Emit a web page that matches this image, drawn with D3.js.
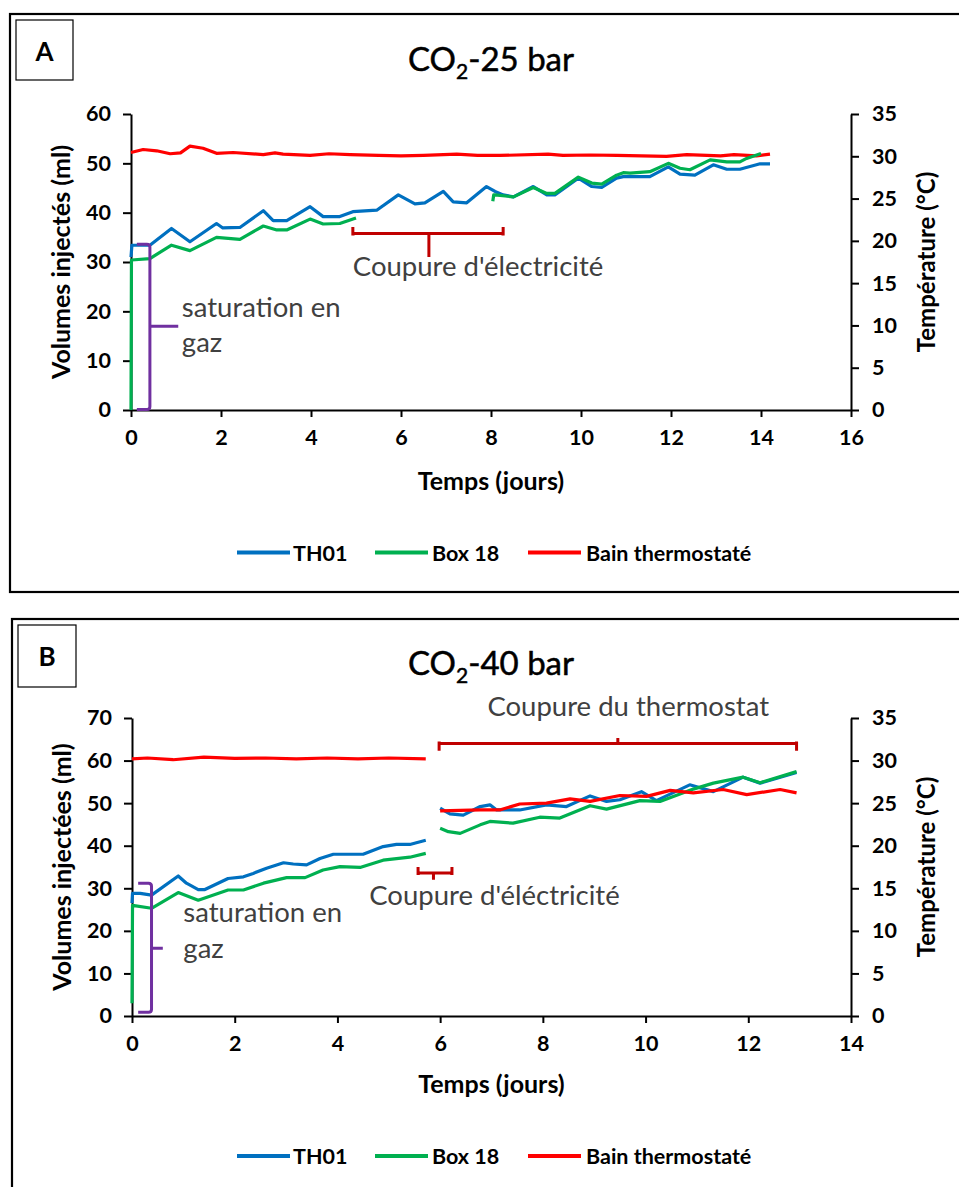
<!DOCTYPE html>
<html>
<head>
<meta charset="utf-8">
<script src="https://cdn.jsdelivr.net/npm/d3@7"></script>
<style>
  html, body { margin: 0; padding: 0; background: #fff; }
  svg { display: block; }
  text { font-family: Lato, "Open Sans", sans-serif; }
</style>
</head>
<body>
<svg id="chart" width="959" height="1187"></svg>
<script>
// ---------------- DATA ----------------
// Panel A : CO2-25 bar
const xTicksA = [0, 2, 4, 6, 8, 10, 12, 14, 16];
const yTicksA = [0, 10, 20, 30, 40, 50, 60];
const tTicksA = [0, 5, 10, 15, 20, 25, 30, 35];

const daysA_TH01 = [0, 0.02, 0.42, 0.9, 1.31, 1.9, 2.04, 2.42, 2.94, 3.16, 3.46, 3.98, 4.27, 4.64, 4.93, 5.46, 5.94, 6.31, 6.53, 6.94, 7.16, 7.46, 7.9, 8.09, 8.27, 8.5, 8.94, 9.24, 9.42, 9.94, 10.24, 10.46, 10.79, 10.94, 11.09, 11.53, 11.94, 12.2, 12.53, 12.94, 13.24, 13.53, 13.98, 14.2];
const volA_TH01  = [31.0, 33.4, 33.4, 36.8, 34.1, 37.8, 36.9, 37.0, 40.4, 38.4, 38.4, 41.2, 39.2, 39.2, 40.2, 40.5, 43.6, 41.8, 42.0, 44.3, 42.2, 42.0, 45.3, 44.3, 43.6, 43.2, 45.3, 43.6, 43.6, 47.0, 45.3, 45.1, 47.0, 47.3, 47.3, 47.3, 49.3, 47.8, 47.6, 49.7, 48.8, 48.8, 49.9, 49.9];

const daysA_Box18 = [0, 0.01, 0.42, 0.9, 1.31, 1.9, 2.42, 2.94, 3.24, 3.46, 3.98, 4.27, 4.64, 5.0, 6.5, 8.04, 8.06, 8.09, 8.5, 8.94, 9.24, 9.42, 9.94, 10.24, 10.46, 10.79, 10.94, 11.09, 11.53, 11.94, 12.2, 12.42, 12.87, 13.24, 13.53, 13.68, 14.0];
const volA_Box18  = [0, 30.4, 30.7, 33.4, 32.3, 35.0, 34.6, 37.3, 36.5, 36.5, 38.7, 37.7, 37.8, 38.9, null, 42.3, 43.6, 43.6, 43.2, 45.1, 43.9, 43.9, 47.2, 46.0, 45.8, 47.6, 48.1, 48.0, 48.3, 50.0, 49.0, 48.7, 50.7, 50.3, 50.3, 51.0, 52.0];

const daysA_Bain = [0, 0.27, 0.57, 0.87, 1.1, 1.31, 1.6, 1.9, 2.27, 2.94, 3.2, 3.38, 3.98, 4.4, 4.87, 5.5, 6.0, 6.5, 7.24, 7.7, 8.2, 9.27, 9.6, 10.2, 10.8, 11.9, 12.35, 13.1, 13.4, 13.9, 14.2];
const tempA_Bain = [30.45, 30.8, 30.65, 30.3, 30.4, 31.2, 30.95, 30.35, 30.45, 30.2, 30.4, 30.25, 30.1, 30.3, 30.2, 30.1, 30.05, 30.1, 30.25, 30.1, 30.1, 30.25, 30.1, 30.15, 30.1, 30.0, 30.2, 30.05, 30.2, 30.05, 30.25];

// Panel B : CO2-40 bar
const xTicksB = [0, 2, 4, 6, 8, 10, 12, 14];
const yTicksB = [0, 10, 20, 30, 40, 50, 60, 70];
const tTicksB = [0, 5, 10, 15, 20, 25, 30, 35];

const daysB_TH01 = [0, 0.01, 0.16, 0.38, 0.9, 1.06, 1.29, 1.42, 1.87, 2.17, 2.36, 2.62, 2.95, 3.14, 3.4, 3.66, 3.92, 4.5, 4.89, 5.15, 5.41, 5.72, 5.85, 6.0, 6.19, 6.45, 6.78, 6.97, 7.1, 7.55, 8.07, 8.46, 8.92, 9.24, 9.5, 9.92, 10.21, 10.86, 11.32, 11.9, 12.23, 12.94];
const volB_TH01  = [26.5, 28.8, 28.8, 28.4, 32.9, 31.2, 29.7, 29.7, 32.3, 32.7, 33.5, 34.7, 36.0, 35.7, 35.5, 37.0, 38.0, 38.0, 39.8, 40.3, 40.3, 41.3, null, 48.8, 47.5, 47.2, 49.2, 49.6, 48.4, 48.4, 49.6, 49.2, 51.7, 50.4, 50.8, 52.7, 50.6, 54.3, 52.7, 56.1, 54.7, 57.2];

const daysB_Box18 = [0, 0.01, 0.38, 0.9, 1.29, 1.87, 2.17, 2.56, 3.01, 3.37, 3.72, 4.05, 4.44, 4.89, 5.41, 5.72, 5.85, 6.0, 6.16, 6.39, 6.78, 6.97, 7.42, 7.94, 8.33, 8.92, 9.24, 9.89, 10.28, 10.93, 11.32, 11.9, 12.23, 12.94];
const volB_Box18  = [3.0, 26.0, 25.3, 29.0, 27.2, 29.6, 29.6, 31.2, 32.5, 32.5, 34.3, 35.1, 34.9, 36.6, 37.3, 38.2, null, 44.1, 43.3, 42.9, 44.9, 45.7, 45.3, 46.7, 46.5, 49.4, 48.6, 50.6, 50.4, 53.3, 54.7, 56.1, 54.8, 57.4];

const daysB_Bain = [0, 0.3, 0.8, 1.4, 2.0, 2.6, 3.2, 3.8, 4.4, 5.0, 5.72, 5.85, 6.0, 6.78, 7.16, 7.55, 8.07, 8.53, 8.92, 9.5, 10.02, 10.48, 10.93, 11.51, 11.97, 12.62, 12.94];
const tempB_Bain = [30.2, 30.3, 30.1, 30.4, 30.25, 30.3, 30.2, 30.3, 30.2, 30.3, 30.2, null, 24.1, 24.2, 24.2, 24.9, 25.0, 25.5, 25.2, 25.9, 25.8, 26.5, 26.2, 26.6, 26.0, 26.6, 26.2];

const seriesNames = ["TH01", "Box 18", "Bain thermostaté"];
const seriesColors = ["#0070C0", "#00B050", "#FF0000"];

// ---------------- DRAWING ----------------
const svg = d3.select("#chart");
svg.append("rect").attr("width", 959).attr("height", 1187).attr("fill", "#fff");

function zip(d, v) { return d.map((x, i) => ({ x: x, v: v[i] })); }

function panel(cfg) {
  const g = svg.append("g");
  const x = d3.scaleLinear().domain([0, cfg.xMax]).range(cfg.xRange);
  const y = d3.scaleLinear().domain([0, cfg.yMax]).range(cfg.yRange);
  const t = d3.scaleLinear().domain([0, 35]).range(cfg.yRange);

  // outer frame
  g.append("rect").attr("x", cfg.frame[0]).attr("y", cfg.frame[1])
    .attr("width", cfg.frame[2]).attr("height", cfg.frame[3])
    .attr("fill", "none").attr("stroke", "#000").attr("stroke-width", 2.2);
  // letter box
  g.append("rect").attr("x", cfg.box[0]).attr("y", cfg.box[1])
    .attr("width", cfg.box[2]).attr("height", cfg.box[3])
    .attr("fill", "#fff").attr("stroke", "#000").attr("stroke-width", 1.2);
  g.append("text").attr("x", cfg.box[0] + cfg.box[2] / 2).attr("y", cfg.box[1] + 41)
    .attr("text-anchor", "middle").attr("font-size", 26).attr("font-weight", "bold")
    .text(cfg.letter);

  // title
  const title = g.append("text").attr("x", 491).attr("y", cfg.titleY)
    .attr("text-anchor", "middle").attr("font-size", 33).attr("fill", "#000")
    .attr("stroke", "#000").attr("stroke-width", 0.5);
  title.append("tspan").text("CO");
  title.append("tspan").attr("font-size", 21).attr("dy", 8).text("2");
  title.append("tspan").attr("dy", -8).text(cfg.titleRest);

  // axes
  const styleAxis = sel => {
    sel.selectAll("path").attr("stroke", "#000").attr("stroke-width", 2);
    sel.selectAll("line").attr("stroke", "#000").attr("stroke-width", 2);
    sel.selectAll("text").attr("font-family", "Lato, sans-serif")
      .attr("font-size", 21.5).attr("font-weight", "bold").attr("fill", "#000");
  };
  g.append("g").attr("transform", `translate(0,${cfg.yRange[0]})`)
    .call(d3.axisBottom(x).tickValues(cfg.xTicks).tickSize(7).tickSizeOuter(0).tickPadding(13).tickFormat(d3.format("d")))
    .call(styleAxis);
  g.append("g").attr("transform", `translate(${cfg.xRange[0]},0)`)
    .call(d3.axisLeft(y).tickValues(cfg.yTicks).tickSize(8).tickSizeOuter(0).tickPadding(12).tickFormat(d3.format("d")))
    .call(styleAxis);
  g.append("g").attr("transform", `translate(${cfg.xRange[1]},0)`)
    .call(d3.axisRight(t).tickValues(cfg.tTicks).tickSize(8).tickSizeOuter(0).tickPadding(13).tickFormat(d3.format("d")))
    .call(styleAxis);
  g.selectAll(".domain").attr("fill", "none");

  // axis titles
  const ym = (cfg.yRange[0] + cfg.yRange[1]) / 2;
  g.append("text").attr("transform", `translate(${cfg.yLabelX},${ym}) rotate(-90)`)
    .attr("text-anchor", "middle").attr("font-size", 25).attr("font-weight", "bold")
    .text(cfg.yLabel);
  g.append("text").attr("transform", `translate(${cfg.tLabelX},${ym}) rotate(-90)`)
    .attr("text-anchor", "middle").attr("font-size", 24).attr("font-weight", "bold")
    .text("Température (°C)");
  g.append("text").attr("x", (cfg.xRange[0] + cfg.xRange[1]) / 2).attr("y", cfg.xLabelY)
    .attr("text-anchor", "middle").attr("font-size", 25).attr("font-weight", "bold")
    .text("Temps (jours)");

  // series
  const lineV = d3.line().defined(d => d.v != null).x(d => x(d.x)).y(d => y(d.v));
  const lineT = d3.line().defined(d => d.v != null).x(d => x(d.x)).y(d => t(d.v));
  const drawn = [
    { data: zip(cfg.th01[0], cfg.th01[1]), gen: lineV, c: seriesColors[0] },
    { data: zip(cfg.box18[0], cfg.box18[1]), gen: lineV, c: seriesColors[1] },
    { data: zip(cfg.bain[0], cfg.bain[1]), gen: lineT, c: seriesColors[2] }
  ];
  cfg.order.forEach(i => {
    const s = drawn[i];
    g.append("path").attr("d", s.gen(s.data)).attr("fill", "none")
      .attr("stroke", s.c).attr("stroke-width", 3.2)
      .attr("stroke-linejoin", "round").attr("stroke-linecap", "butt");
  });

  // annotations (brackets)
  cfg.annotate(g, x, y);

  // legend
  const ly = cfg.legendY;
  const legendItems = [
    { x1: 237, x2: 290, tx: 293 },
    { x1: 375, x2: 428, tx: 432 },
    { x1: 528, x2: 581, tx: 586 }
  ];
  legendItems.forEach((it, i) => {
    g.append("line").attr("x1", it.x1).attr("x2", it.x2).attr("y1", ly).attr("y2", ly)
      .attr("stroke", seriesColors[i]).attr("stroke-width", 4);
    g.append("text").attr("x", it.tx).attr("y", ly + 8).attr("font-size", 21.5)
      .attr("font-weight", "bold").text(seriesNames[i]);
  });
}

const annColor = "#404040";
const darkRed = "#C00000";
const purple = "#7030A0";

function curlyVertical(g, x, y, xv, xl, xm, yTop, yBot, yMid) {
  const X = x(xv), XL = x(xl), XM = x(xm), YT = y(yTop), YB = y(yBot), YM = y(yMid);
  g.append("path")
    .attr("d", `M${XL},${YT} H${X - 3} Q${X},${YT} ${X},${YT + 3} V${YB - 3} Q${X},${YB} ${X - 3},${YB} H${XL} M${X},${YM} H${XM}`)
    .attr("fill", "none").attr("stroke", purple).attr("stroke-width", 3);
}
function bracketH(g, x, y, x1, x2, yh, yHook, xt, yTip) {
  const X1 = x(x1), X2 = x(x2), YH = y(yh), YK = y(yHook), XT = x(xt), YT = y(yTip);
  const s = YK < YH ? -1 : 1;
  g.append("path")
    .attr("d", `M${X1},${YK} V${YH - s * 2} Q${X1},${YH} ${X1 + 2},${YH} H${X2 - 2} Q${X2},${YH} ${X2},${YH - s * 2} V${YK} M${XT},${YH} V${YT}`)
    .attr("fill", "none").attr("stroke", darkRed).attr("stroke-width", 3);
}
function annText(g, x, y, lines, xd, yd, lh, size) {
  lines.forEach((s, i) => {
    g.append("text").attr("x", x(xd)).attr("y", y(yd) + i * lh)
      .attr("font-size", size).attr("fill", annColor).text(s);
  });
}

panel({
  letter: "A", titleRest: "-25 bar", titleY: 71,
  frame: [10, 14, 960, 578], box: [16, 20, 57, 60],
  xMax: 16, yMax: 60, xRange: [131, 851], yRange: [410, 114],
  xTicks: xTicksA, yTicks: yTicksA, tTicks: tTicksA,
  yLabel: "Volumes injectés (ml)", yLabelX: 70, tLabelX: 935, xLabelY: 490,
  th01: [daysA_TH01, volA_TH01], box18: [daysA_Box18, volA_Box18],
  bain: [daysA_Bain, tempA_Bain], order: [2, 0, 1], legendY: 552.5,
  annotate: (g, x, y) => {
    curlyVertical(g, x, y, 0.42, 0.13, 1.05, 33.6, 0.1, 17.0);
    bracketH(g, x, y, 4.93, 8.27, 35.8, 37.1, 6.62, 31.0);
    annText(g, x, y, ["saturation en", "gaz"], 1.13, 18.85, 35, 27.5);
    annText(g, x, y, ["Coupure d'électricité"], 4.93, 27.1, 0, 27.5);
  }
});

panel({
  letter: "B", titleRest: "-40 bar", titleY: 675,
  frame: [12, 619, 960, 600], box: [18, 625, 58, 62],
  xMax: 14, yMax: 70, xRange: [132, 851], yRange: [1016, 718],
  xTicks: xTicksB, yTicks: yTicksB, tTicks: tTicksB,
  yLabel: "Volumes injectées (ml)", yLabelX: 71, tLabelX: 935, xLabelY: 1093,
  th01: [daysB_TH01, volB_TH01], box18: [daysB_Box18, volB_Box18],
  bain: [daysB_Bain, tempB_Bain], order: [0, 1, 2], legendY: 1156,
  annotate: (g, x, y) => {
    curlyVertical(g, x, y, 0.38, 0.12, 0.6, 31.2, 0.9, 15.9);
    bracketH(g, x, y, 5.57, 6.23, 33.6, 35.0, 5.87, 32.0);
    bracketH(g, x, y, 5.98, 12.94, 64.0, 62.3, 9.46, 65.3);
    annText(g, x, y, ["saturation en", "gaz"], 1.0, 22.0, 36, 27.5);
    annText(g, x, y, ["Coupure d'éléctricité"], 4.62, 26.1, 0, 27.5);
    annText(g, x, y, ["Coupure du thermostat"], 6.92, 70.4, 0, 27.5);
  }
});
</script>
</body>
</html>
